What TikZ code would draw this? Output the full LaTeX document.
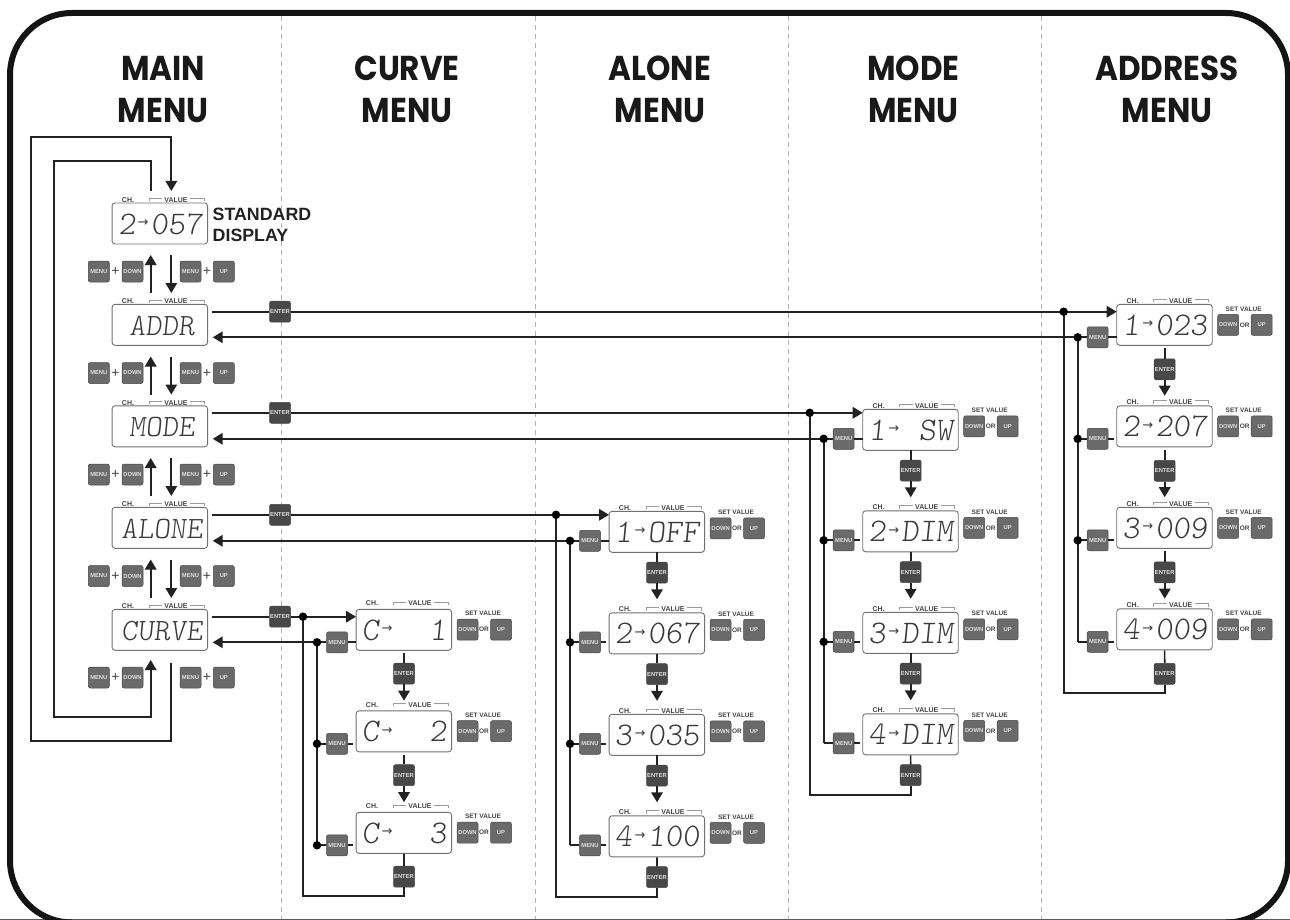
\documentclass[tikz,border=0pt]{standalone}
\usepackage{fontspec}
\setmainfont{Liberation Sans}
\usetikzlibrary{arrows.meta}
\newfontfamily\segf[FakeSlant=0.1]{Latin Modern Mono Light}
\newfontfamily\headf[FakeStretch=0.9]{Poppins}
\newfontfamily\arrf{DejaVu Sans}
\definecolor{inkc}{HTML}{222222}
\definecolor{lblc}{HTML}{444444}
\definecolor{segc}{HTML}{3a3a3a}
\definecolor{edgec}{HTML}{707070}
\definecolor{btnc}{HTML}{6a6a6a}
\definecolor{entc}{HTML}{484848}
\tikzset{
  x=1pt,y=-1pt,
  wire/.style={draw=inkc,line width=1.7pt},
  wirea/.style={wire,-{Triangle[length=10pt,width=11.5pt]}},
  lcdbox/.style={draw=edgec,fill=white,line width=0.9pt,rounded corners=3pt,minimum width=95.5pt,minimum height=41pt,inner sep=0pt},
  lbl/.style={font=\bfseries\fontsize{7}{7}\selectfont,text=lblc,inner sep=0pt},
  setlbl/.style={font=\bfseries\fontsize{6.5}{6.5}\selectfont,text=lblc,inner sep=0pt},
  brk/.style={draw=edgec!70,line width=0.6pt},
  btn/.style={draw=lblc,line width=0.5pt,fill=btnc,rounded corners=2pt,minimum width=21pt,minimum height=21pt,inner sep=0pt,text=white!88!black,font=\bfseries\fontsize{5.8}{6}\selectfont},
  entbtn/.style={btn,fill=entc},
  dotn/.style={circle,fill=black,minimum size=8.5pt,inner sep=0pt},
  seg/.style={inner sep=0pt,anchor=base,text=segc,font=\segf\fontsize{33}{33}\selectfont},
  segm/.style={seg,font=\segf\fontsize{31}{31}\selectfont},
  segr/.style={seg,anchor=base east},
  segarr/.style={inner sep=0pt,text=segc,font=\arrf\fontsize{13}{13}\selectfont},
  plusn/.style={inner sep=0pt,text=lblc,font=\fontsize{14}{14}\selectfont},
  head/.style={inner sep=0pt,align=center,text=black!90,font=\headf\bfseries\fontsize{34.5}{42.5}\selectfont},
  sepline/.style={draw=black!30,line width=0.7pt,dash pattern=on 5pt off 4pt},
}
% display frame with CH. / VALUE captions
\newcommand{\lcdframe}[4]{%
  \node[lcdbox] (#1) at ({#2+47.8},{#3+20.5}) {};
  \node[lbl] (#1ch) at ({#2+16},{#3+#4}) {CH.};
  \node[lbl] (#1val) at ({#2+64},{#3+#4}) {VALUE};
  \draw[brk] ({#2+37},{#3+#4+1.5}) -- ({#2+37},{#3+#4-1.5}) -- ({#2+50},{#3+#4-1.5});
  \draw[brk] ({#2+78},{#3+#4-1.5}) -- ({#2+92},{#3+#4-1.5}) -- ({#2+92},{#3+#4+1.5});
}
% column look: ch dy, set dy, enter dy, gap, tip dy, return dy, in dy, out dy
\newcommand{\colstyle}[8]{\def\chdy{#1}\def\setdy{#2}\def\entdy{#3}\def\gapdy{#4}\def\tipdy{#5}\def\retdy{#6}\def\indy{#7}\def\outdy{#8}}
% submenu row: name, left, top, channel, value
\newcommand{\subrow}[5]{%
  \lcdframe{#1}{#2}{#3}{\chdy}
  \node[seg] (#1c) at ({#2+14.5},{#3+31}) {#4};
  \node[segarr] (#1a) at ({#2+31},{#3+20}) {→};
  \node[segr] (#1v) at ({#2+91},{#3+31}) {#5};
  \node[setlbl] (#1s) at ({#2+127},{#3+1+\setdy}) {SET VALUE};
  \node[btn] (#1dn) at ({#2+111.5},{#3+17+\setdy}) {DOWN};
  \node[setlbl] (#1or) at ({#2+128},{#3+17+\setdy}) {OR};
  \node[btn] (#1up) at ({#2+145},{#3+17+\setdy}) {UP};
  \node[btn] (#1menu) at ({#2-19},{#3+\outdy}) {MENU};
  \node[entbtn] (#1ent) at ({#2+48},{#3+\entdy}) {ENTER};
  \coordinate (#1in) at (#2,{#3+\indy});
  \coordinate (#1out) at (#2,{#3+\outdy});
  \coordinate (#1j) at ({#2-39},{#3+\outdy});
  \coordinate (#1jd) at ({#2-53},{#3+\indy});
  \coordinate (#1st) at ({#2+48},{#3+41+\gapdy});
  \coordinate (#1tip) at ({#2+48},{#3+\tipdy});
  \coordinate (#1stub) at ({#2-3},{#3+\outdy});
  \coordinate (#1ra) at ({#2+48},{#3+\retdy});
  \coordinate (#1rb) at ({#2-53},{#3+\retdy});
  \draw[wire] (#1menu) -- (#1j);
}
% main column row
\newcommand{\mainrow}[3]{%
  \lcdframe{#1}{112}{#2}{-3}
  \node[segm,anchor=base] (#1t) at (162,{#2+31}) {#3};
}
\newcommand{\mainkeys}[2]{%
  \node[btn] (#1ma) at (98.8,#2) {MENU};
  \node[plusn] (#1pa) at (115.5,#2) {+};
  \node[btn] (#1da) at (132.5,#2) {DOWN};
  \node[btn] (#1mb) at (190.5,#2) {MENU};
  \node[plusn] (#1pb) at (207,#2) {+};
  \node[btn] (#1ub) at (223.8,#2) {UP};
}
% enter key and line ends of a main row: name, out y, return y
\newcommand{\mainenter}[3]{%
  \node[entbtn] (#1ent) at (280,#2) {ENTER};
  \coordinate (#1o) at (212,#2);
  \coordinate (#1r) at (212.7,#3);
}
\begin{document}
\begin{tikzpicture}
\useasboundingbox (0,0) rectangle (1290,920);
\clip (0,0) rectangle (1290,920);
% column separators
\foreach \sx/\sn in {281/a,535/b,788/c,1041/d}{
  \coordinate (sep\sn t) at (\sx,16);
  \coordinate (sep\sn b) at (\sx,919);
  \draw[sepline] (sep\sn t) -- (sep\sn b);
}
% frame
\coordinate (fa) at (72,922.5);
\coordinate (fb) at (10,922.5);
\coordinate (fc) at (10,13);
\coordinate (fd) at (1288,13);
\coordinate (fe) at (1288,922.5);
\coordinate (ff) at (1226,922.5);
\draw[black!65,line width=1pt] (0,919.5) -- (1290,919.5);
\draw[black!92,line width=6pt,rounded corners=62pt] (fa) -- (fb) -- (fc) -- (fd) -- (fe) -- (ff);
% headings
\node[head] (h1) at (163,89.5) {MAIN\\MENU};
\node[head] (h2) at (407,89.5) {CURVE\\MENU};
\node[head] (h3) at (660,89.5) {ALONE\\MENU};
\node[head] (h4) at (913.5,89.5) {MODE\\MENU};
\node[head] (h5) at (1167,89.5) {ADDRESS\\MENU};
% main column
\lcdframe{m1}{112}{203}{-3}
\node[seg] (m1c) at (127,234) {2};
\node[segarr] (m1a) at (143,223) {→};
\node[segr] (m1v) at (203,234) {057};
\node[inner sep=0pt,anchor=west,align=left,text=inkc,font=\bfseries\fontsize{17.8}{21}\selectfont] (std) at (212.5,224.5) {STANDARD\\DISPLAY};
\mainrow{m2}{304.3}{ADDR}
\mainrow{m3}{405.8}{MODE}
\mainrow{m4}{507.3}{ALONE}
\mainrow{m5}{609.3}{CURVE}
\mainkeys{k1}{271.5}
\mainkeys{k2}{373}
\mainkeys{k3}{474.5}
\mainkeys{k4}{576}
\mainkeys{k5}{677.5}
\mainenter{m2}{311.7}{337.3}
\mainenter{m3}{412.8}{438.8}
\mainenter{m4}{514.8}{540.8}
\mainenter{m5}{616.7}{642.3}
% vertical arrows in main column
\foreach \ya/\yb/\n in {255/293/1,356.5/394.5/2,458/496/3,559.5/598/4}{
  \coordinate (dn\n a) at (171.3,\ya);
  \coordinate (dn\n b) at (171.3,\yb);
  \coordinate (up\n a) at (150.7,\yb);
  \coordinate (up\n b) at (150.7,\ya);
  \draw[wirea] (dn\n a) -- (dn\n b);
  \draw[wirea] (up\n a) -- (up\n b);
}
% main loops
\coordinate (oa) at (171.3,662.7);
\coordinate (ob) at (171.3,741);
\coordinate (oc) at (31.3,741);
\coordinate (od) at (31.3,136.7);
\coordinate (oe) at (171.3,136.7);
\coordinate (of) at (171.3,191);
\draw[wirea] (oa) -- (ob) -- (oc) -- (od) -- (oe) -- (of);
\coordinate (ia) at (150.7,191);
\coordinate (ib) at (150.7,160.7);
\coordinate (ic) at (54.3,160.7);
\coordinate (id) at (54.3,717.3);
\coordinate (ie) at (150.7,717.3);
\coordinate (if) at (150.7,660);
\draw[wirea] (ia) -- (ib) -- (ic) -- (id) -- (ie) -- (if);
% CURVE column
\colstyle{-6}{3.4}{64.4}{3}{91.4}{84}{7.4}{33}
\subrow{c1}{356}{609.3}{C}{1}
\subrow{c2}{356}{710.8}{C}{2}
\subrow{c3}{356}{812.3}{C}{3}
% ALONE column
\colstyle{-3.6}{0}{61.3}{0}{88}{81}{3.5}{29.5}
\subrow{a1}{609}{511.3}{1}{OFF}
\subrow{a2}{609}{612.8}{2}{067}
\subrow{a3}{609}{714.3}{3}{035}
\subrow{a4}{609}{815.8}{4}{100}
% MODE column
\subrow{o1}{862.7}{409.3}{1}{SW}
\subrow{o2}{862.7}{510.8}{2}{DIM}
\subrow{o3}{862.7}{612.3}{3}{DIM}
\subrow{o4}{862.7}{713.8}{4}{DIM}
% ADDRESS column
\colstyle{-3.6}{3.6}{65}{3}{91.4}{84}{7.4}{33}
\subrow{d1}{1116.7}{304.3}{1}{023}
\subrow{d2}{1116.7}{405.8}{2}{207}
\subrow{d3}{1116.7}{507.3}{3}{009}
\subrow{d4}{1116.7}{608.8}{4}{009}
% connectors: main <-> submenu
\foreach \m/\s in {m5/c,m4/a,m3/o,m2/d}{
  \draw[wire] (\m o) -- (\m ent);
  \draw[wirea] (\m ent) -- (\s 1in);
  \draw[wirea] (\s 1menu) -- (\m r);
  \draw[wire] (\s 1menu) -- (\s 1out);
}
% connectors: rows
\foreach \s/\a/\b in {c/1/2,c/2/3,a/1/2,a/2/3,a/3/4,o/1/2,o/2/3,o/3/4,d/1/2,d/2/3,d/3/4}{
  \draw[wire] (\s\a st) -- (\s\a ent);
  \draw[wirea] (\s\a ent) -- (\s\a tip);
  \draw[wire] (\s\b menu) -- (\s\b stub);
  \draw[wire] (\s\a j) -- (\s\b j);
}
% connectors: return lines
\foreach \s/\l in {c/3,a/4,o/4,d/4}{
  \draw[wire] (\s\l) -- (\s\l ent);
  \draw[wire] (\s\l ent) -- (\s\l ra) -- (\s\l rb) -- (\s 1jd);
}
% junction dots
\foreach \n in {c1,c2,c3,a1,a2,a3,o1,o2,o3,d1,d2,d3}{
  \node[dotn] (\n dotj) at (\n j) {};
}
\foreach \n in {c1,a1,o1,d1}{
  \node[dotn] (\n dotd) at (\n jd) {};
}
\end{tikzpicture}
\end{document}
